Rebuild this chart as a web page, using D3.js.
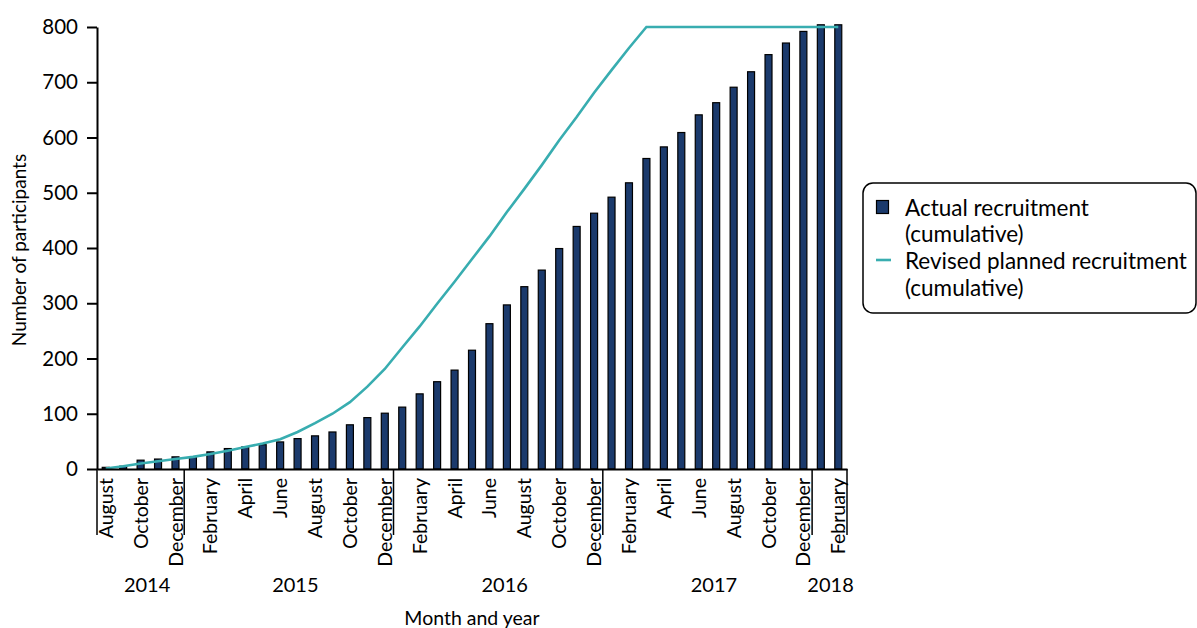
<!DOCTYPE html>
<html>
<head>
<meta charset="utf-8">
<script src="https://cdn.jsdelivr.net/npm/d3@7"></script>
<style>
  body { margin: 0; background: #fff; }
  svg, svg text { font-family: Lato, "Open Sans", sans-serif; }
  text { fill: #000; }
</style>
</head>
<body>
<svg width="1197" height="628"></svg>
<script>
const months = [
  "Aug 2014", "Sep 2014", "Oct 2014", "Nov 2014", "Dec 2014",
  "Jan 2015", "Feb 2015", "Mar 2015", "Apr 2015", "May 2015", "Jun 2015",
  "Jul 2015", "Aug 2015", "Sep 2015", "Oct 2015", "Nov 2015", "Dec 2015",
  "Jan 2016", "Feb 2016", "Mar 2016", "Apr 2016", "May 2016", "Jun 2016",
  "Jul 2016", "Aug 2016", "Sep 2016", "Oct 2016", "Nov 2016", "Dec 2016",
  "Jan 2017", "Feb 2017", "Mar 2017", "Apr 2017", "May 2017", "Jun 2017",
  "Jul 2017", "Aug 2017", "Sep 2017", "Oct 2017", "Nov 2017", "Dec 2017",
  "Jan 2018", "Feb 2018"
];
const monthNames = {
  Jan: "January", Feb: "February", Mar: "March", Apr: "April", May: "May", Jun: "June",
  Jul: "July", Aug: "August", Sep: "September", Oct: "October", Nov: "November", Dec: "December"
};
const years = ["2014", "2015", "2016", "2017", "2018"];

const actual = [
  3, 5, 16, 18, 22, 22, 31, 37, 40, 44, 49, 55, 60, 67, 80, 93, 101,
  112, 136, 158, 179, 215, 263, 297, 330, 360, 399, 439, 463,
  492, 518, 562, 583, 609, 641, 663, 691, 719, 750, 771, 792,
  804, 804
];
const planned = [
  1, 5, 10, 14, 18, 22, 27, 33, 40, 46, 54, 67, 83, 100, 121, 149, 181,
  220, 258, 299, 339, 380, 421, 465, 507, 550, 595, 637, 681,
  722, 762, 800, 800, 800, 800, 800, 800, 800, 800, 800, 800,
  800, 800
];
const yTicks = [0, 100, 200, 300, 400, 500, 600, 700, 800];

const navy = "#1b3a6c";
const teal = "#38adb0";
const font = "Lato, 'Open Sans', sans-serif";

const svg = d3.select("svg");

const x = d3.scaleBand()
  .domain(months)
  .range([97, 847])
  .paddingInner(0.6)
  .paddingOuter(0.3);

const y = d3.scaleLinear()
  .domain([0, 800])
  .range([469, 27]);

const step = x.step();
const cx = d => x(d) + x.bandwidth() / 2;

// bars
svg.append("g")
  .selectAll("rect")
  .data(months)
  .enter().append("rect")
  .attr("x", d => x(d))
  .attr("width", x.bandwidth())
  .attr("y", (d, i) => y(actual[i]))
  .attr("height", (d, i) => y(0) - y(actual[i]))
  .attr("fill", navy)
  .attr("stroke", "#000")
  .attr("stroke-width", 1.2);

// planned line
const line = d3.line()
  .x((d, i) => cx(months[i]))
  .y(d => y(d));

svg.append("path")
  .datum(planned)
  .attr("d", line)
  .attr("fill", "none")
  .attr("stroke", teal)
  .attr("stroke-width", 2.6);

// y axis
const yAxis = svg.append("g")
  .attr("transform", "translate(97,0)")
  .call(d3.axisLeft(y).tickValues(yTicks).tickSize(10).tickSizeOuter(0).tickPadding(9))
  .attr("font-family", font)
  .attr("font-size", 20.5);
yAxis.select(".domain").attr("stroke-width", 2);
yAxis.selectAll(".tick line").attr("stroke-width", 2);
yAxis.selectAll("text").attr("fill", "#000");

// x axis
const xAxis = svg.append("g")
  .attr("transform", "translate(0,469)")
  .call(d3.axisBottom(x)
    .tickValues(months.filter((d, i) => i % 2 === 0))
    .tickFormat(d => monthNames[d.slice(0, 3)])
    .tickSize(0)
    .tickSizeOuter(0))
  .attr("font-family", font)
  .attr("font-size", 19.5);
xAxis.select(".domain").attr("stroke-width", 2);
xAxis.selectAll("text")
  .attr("transform", "rotate(-90)")
  .attr("x", -9)
  .attr("y", 0)
  .attr("dy", "0.36em")
  .attr("text-anchor", "end")
  .attr("fill", "#000");

// year groups
const groups = years.map(yr => {
  const ms = months.filter(m => m.endsWith(yr));
  const x0 = cx(ms[0]) - step / 2;
  const x1 = cx(ms[ms.length - 1]) + step / 2;
  return { yr, x0, x1 };
});

const sep = [97].concat(groups.slice(1).map(g => g.x0)).concat([847]);
svg.append("g")
  .selectAll("line")
  .data(sep)
  .enter().append("line")
  .attr("x1", d => d).attr("x2", d => d)
  .attr("y1", 469).attr("y2", 535)
  .attr("stroke", "#000")
  .attr("stroke-width", 1.5);

svg.append("g")
  .selectAll("text")
  .data(groups)
  .enter().append("text")
  .attr("x", d => (d.x0 + d.x1) / 2 + (d.yr === "2018" ? 1 : 6.5))
  .attr("y", 592)
  .attr("text-anchor", "middle")
  .style("font-size", "20px")
  .text(d => d.yr);

// axis titles
svg.append("text")
  .attr("x", 472)
  .attr("y", 625)
  .attr("text-anchor", "middle")
  .style("font-size", "19.5px")
  .text("Month and year");

svg.append("text")
  .attr("transform", "translate(26,250) rotate(-90)")
  .attr("text-anchor", "middle")
  .style("font-size", "19px")
  .text("Number of participants");

// legend
const legend = svg.append("g");
legend.append("rect")
  .attr("x", 863).attr("y", 183)
  .attr("width", 333).attr("height", 130)
  .attr("rx", 10)
  .attr("fill", "#fff")
  .attr("stroke", "#000")
  .attr("stroke-width", 1.5);
legend.append("rect")
  .attr("x", 876.5).attr("y", 200.5)
  .attr("width", 12).attr("height", 13)
  .attr("fill", navy)
  .attr("stroke", "#000")
  .attr("stroke-width", 1.2);
legend.append("line")
  .attr("x1", 876).attr("x2", 891)
  .attr("y1", 260).attr("y2", 260)
  .attr("stroke", teal)
  .attr("stroke-width", 2.6);

const legendLines = [
  ["Actual recruitment", 216],
  ["(cumulative)", 242],
  ["Revised planned recruitment", 269],
  ["(cumulative)", 296]
];
legend.selectAll("text.lg")
  .data(legendLines)
  .enter().append("text")
  .attr("class", "lg")
  .attr("x", 905)
  .attr("y", d => d[1])
  .style("font-size", "22.5px")
  .text(d => d[0]);
</script>
</body>
</html>
